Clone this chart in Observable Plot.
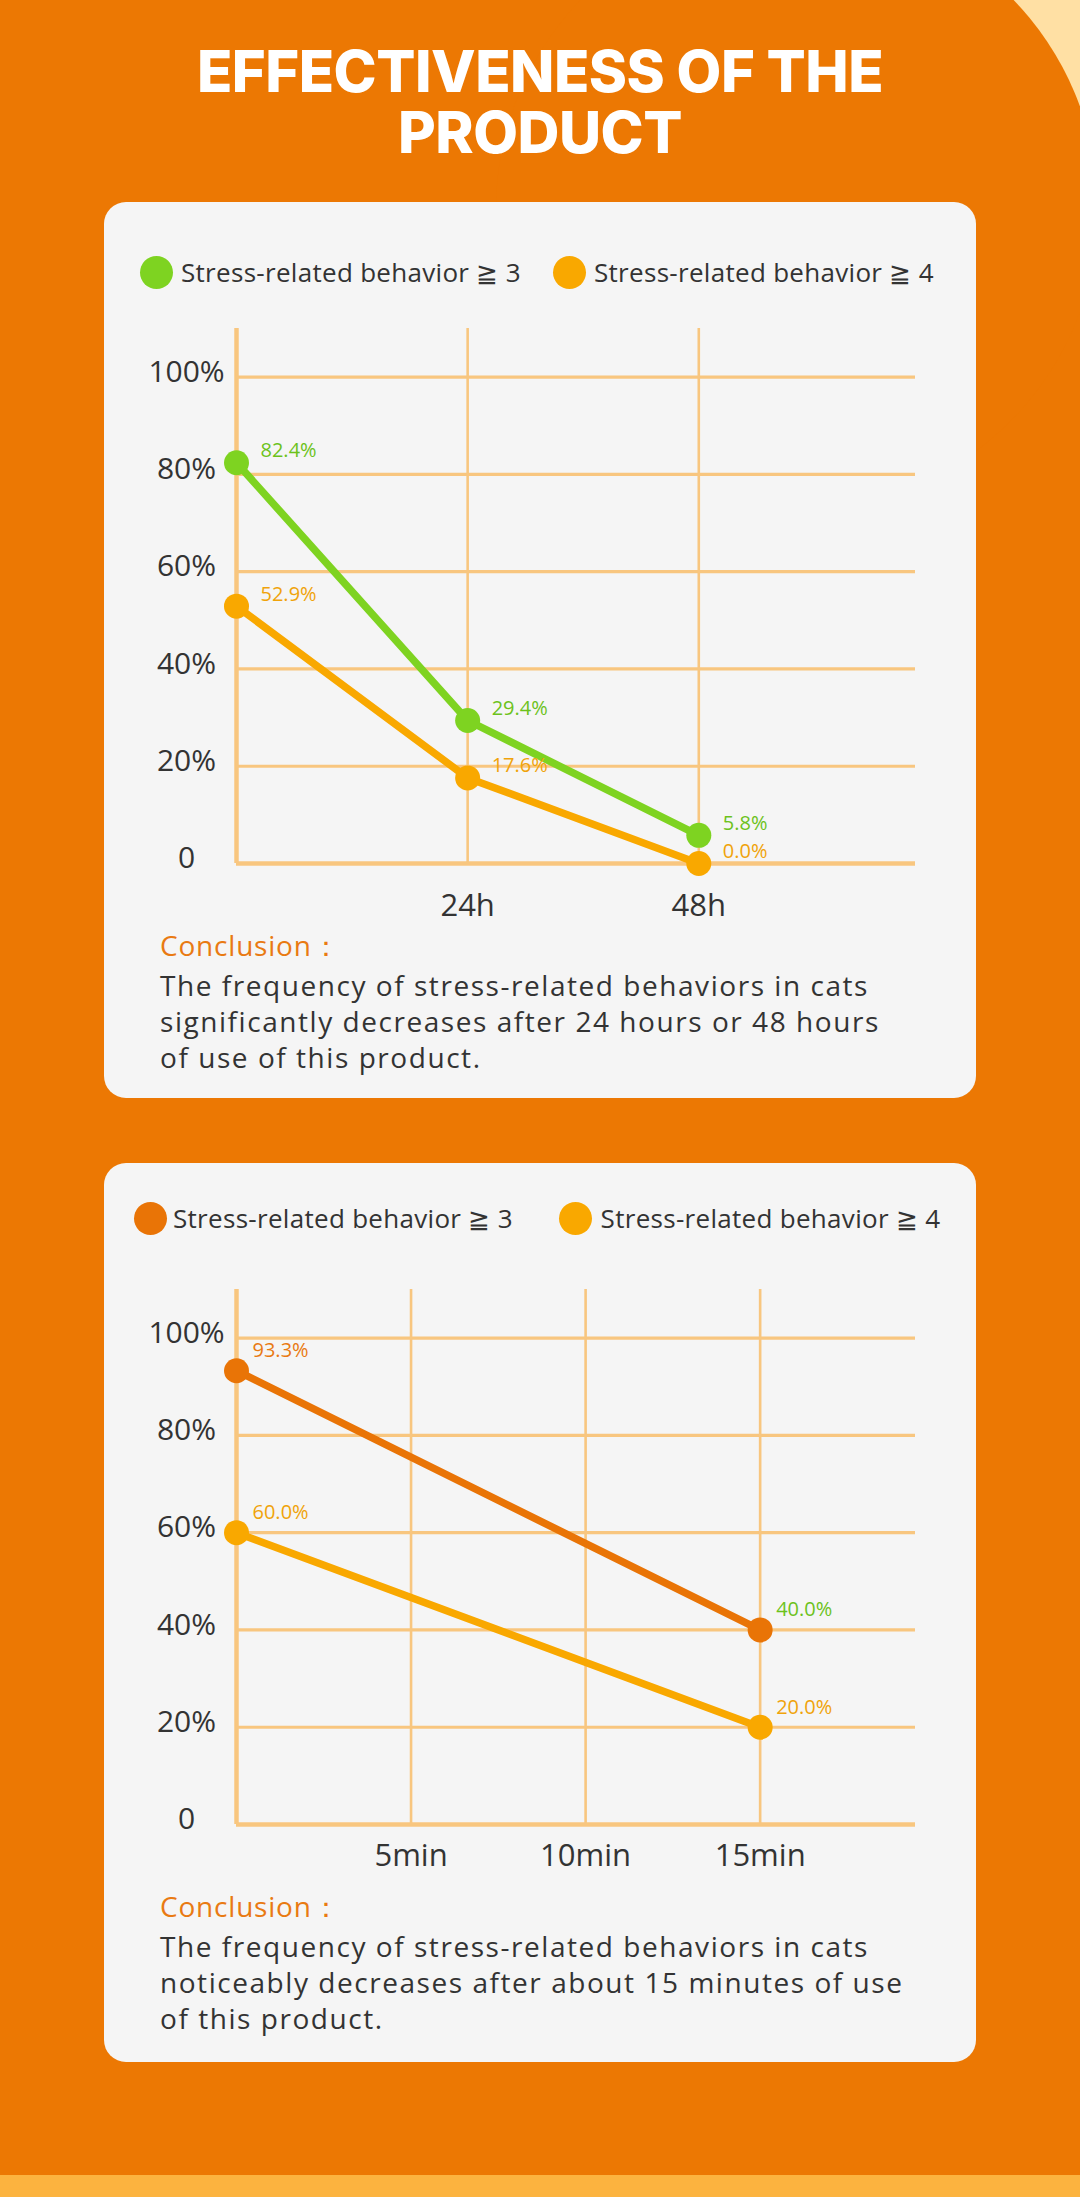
<!DOCTYPE html>
<html><head><meta charset="utf-8">
<script src="https://cdn.jsdelivr.net/npm/d3@7"></script>
<script src="https://cdn.jsdelivr.net/npm/@observablehq/plot@0.6"></script>
<style>
body{margin:0;}
#page{position:relative;width:1080px;height:2197px;background:#EC7803;overflow:hidden;font-family:"Open Sans",sans-serif;}
.cream{position:absolute;left:1000px;top:0;width:80px;height:106px;background:#FFE0A4;}
.orb{position:absolute;left:496px;top:-92px;width:602px;height:602px;border-radius:50%;background:#EC7803;}
.stripe{position:absolute;left:0;top:2175px;width:1080px;height:22px;background:#FCB33F;}
.title{position:absolute;left:0;width:1080px;height:61px;margin:0;text-align:center;color:#fff;font-family:Inter,sans-serif;font-weight:800;font-size:58px;line-height:61px;letter-spacing:-0.5px;white-space:nowrap;}
.card{position:absolute;left:104px;width:872px;background:#F5F5F5;border-radius:22px;}
.dot{position:absolute;width:33px;height:33px;border-radius:50%;}
.ltext{position:absolute;font-size:26px;line-height:34px;letter-spacing:0.3px;color:#333;white-space:nowrap;}
.chart{position:absolute;left:0;top:98px;}
.chead{position:absolute;left:56px;top:725px;font-size:28px;line-height:36px;letter-spacing:0.8px;color:#E97A12;}
.cbody{position:absolute;left:56px;top:765px;font-size:28px;line-height:36px;letter-spacing:1.55px;color:#333;white-space:nowrap;}
</style></head>
<body><div id="page">
<div class="cream"></div><div class="orb"></div>
<div class="stripe"></div>
<div class="title" style="top:41px;">EFFECTIVENESS OF THE</div>
<div class="title" style="top:102px;">PRODUCT</div>
<div class="card" id="card1" style="top:202px;height:896px;"></div>
<div class="card" id="card2" style="top:1163px;height:899px;"></div>
</div>
<script>
// ---------- data ----------
const seriesNames = ["Stress-related behavior ≧ 3", "Stress-related behavior ≧ 4"];
const yTicks = [0, 20, 40, 60, 80, 100];

const hours = [0, 24, 48];
const hourSeries3 = [82.4, 29.4, 5.8];
const hourSeries4 = [52.9, 17.6, 0.0];
const hourTicks = [24, 48];
const hourTickLabels = ["24h", "48h"];

const minutes = [0, 15];
const minuteSeries3 = [93.3, 40.0];
const minuteSeries4 = [60.0, 20.0];
const minuteTicks = [5, 10, 15];
const minuteTickLabels = ["5min", "10min", "15min"];

const conclusion1 = ["The frequency of stress-related behaviors in cats", "significantly decreases after 24 hours or 48 hours", "of use of this product."];
const conclusion2 = ["The frequency of stress-related behaviors in cats", "noticeably decreases after about 15 minutes of use", "of this product."];

// ---------- styles ----------
const gridColor = "#F8C67F";
const colors1 = ["#7ED321", "#F9A800"];
const labelColors1 = ["#6CC21B", "#6CC21B", "#6CC21B", "#F0A30A", "#F0A30A", "#F0A30A"];
const colors2 = ["#E97406", "#F9A800"];
const labelColors2 = ["#E97A12", "#6CC21B", "#F0A30A", "#F0A30A"];

function tidy(xs, s3, s4) {
  const rows = [];
  xs.forEach((t, i) => rows.push({t, v: s3[i], s: 0}));
  xs.forEach((t, i) => rows.push({t, v: s4[i], s: 1}));
  return rows;
}

function build(card, cfg) {
  const el = document.getElementById(card);
  cfg.legend.forEach((L, i) => {
    const d = document.createElement("div");
    d.className = "dot";
    d.style.left = (L.cx - 16.5) + "px"; d.style.top = (cfg.legendY - 16.5) + "px";
    d.style.background = cfg.colors[i];
    el.appendChild(d);
    const t = document.createElement("div");
    t.className = "ltext"; t.textContent = seriesNames[i];
    t.style.left = L.tx + "px"; t.style.top = (cfg.legendY - 17) + "px";
    el.appendChild(t);
  });
  const data = tidy(cfg.xs, cfg.s3, cfg.s4);
  const plot = Plot.plot({
    width: 872, height: 623,
    marginLeft: 132, marginRight: 61, marginTop: 28, marginBottom: 60,
    x: {domain: [0, cfg.xMax], axis: null},
    y: {domain: [0, 110], axis: null},
    style: {background: "transparent", fontFamily: "'Open Sans', sans-serif", overflow: "visible"},
    marks: [
      Plot.ruleY(yTicks.filter(d => d > 0), {stroke: gridColor, strokeWidth: 3.2}),
      Plot.ruleX(cfg.ticks, {stroke: gridColor, strokeWidth: 2.6}),
      Plot.ruleX([0], {stroke: gridColor, strokeWidth: 4.5}),
      Plot.ruleY([0], {stroke: gridColor, strokeWidth: 4.5}),
      Plot.text(yTicks, {x: 0, y: d => d, text: d => d === 0 ? "0" : d + "%", dx: -50, dy: -5,
        textAnchor: "middle", fontSize: 30, fill: "#333"}),
      Plot.text(cfg.ticks, {x: d => d, y: 0, text: (d, i) => cfg.tickLabels[i], dy: cfg.tickDy,
        fontSize: 31, fill: "#333"}),
      Plot.line(data, {x: "t", y: "v", z: "s", stroke: d => cfg.colors[d.s], strokeWidth: 7.5}),
      Plot.dot(data, {x: "t", y: "v", r: 12.5, fill: d => cfg.colors[d.s]}),
      Plot.text(data, {x: "t", y: "v", text: d => d.v.toFixed(1) + "%", dx: cfg.labelDx, dy: cfg.labelDy,
        textAnchor: "start", fontSize: 20, fill: (d, i) => cfg.labelColors[i]})
    ]
  });
  plot.classList.add("chart");
  el.appendChild(plot);
  const h = document.createElement("div");
  h.className = "chead"; h.textContent = "Conclusion：";
  el.appendChild(h);
  const b = document.createElement("div");
  b.className = "cbody"; b.innerHTML = cfg.conclusion.join("<br>");
  el.appendChild(b);
}

build("card1", {
  xs: hours, s3: hourSeries3, s4: hourSeries4, xMax: 70.5,
  ticks: hourTicks, tickLabels: hourTickLabels, tickDy: 43,
  colors: colors1, labelColors: labelColors1, labelDx: 24, labelDy: -12,
  legendY: 70, legend: [{cx: 52, tx: 77}, {cx: 465, tx: 490}],
  conclusion: conclusion1
});
build("card2", {
  xs: minutes, s3: minuteSeries3, s4: minuteSeries4, xMax: 19.45,
  ticks: minuteTicks, tickLabels: minuteTickLabels, tickDy: 32,
  colors: colors2, labelColors: labelColors2, labelDx: 16, labelDy: -20,
  legendY: 55, legend: [{cx: 46.5, tx: 69}, {cx: 471, tx: 496.6}],
  conclusion: conclusion2
});
</script>
</body></html>
